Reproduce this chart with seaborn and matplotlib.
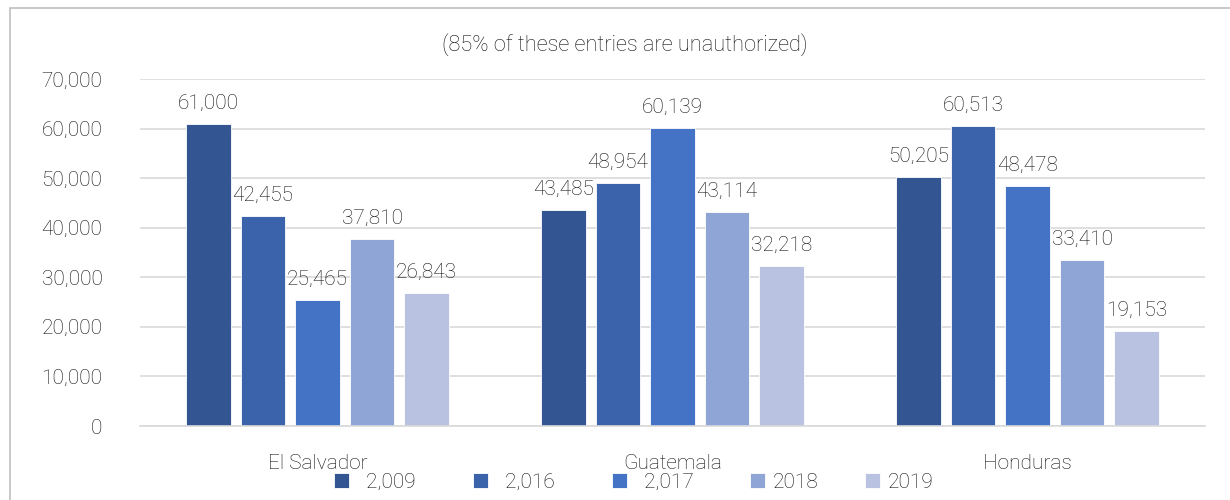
import matplotlib
matplotlib.use("Agg")
import matplotlib.pyplot as plt
from matplotlib.patches import Rectangle
import seaborn as sns
import pandas as pd

countries = ["El Salvador", "Guatemala", "Honduras"]
years = ["2,009", "2,016", "2,017", "2018", "2019"]
el_salvador = [61000, 42455, 25465, 37810, 26843]
guatemala = [43485, 48954, 60139, 43114, 32218]
honduras = [50205, 60513, 48478, 33410, 19153]
colors = ["#335592", "#3B63AC", "#4472C4", "#8FA5D6", "#B9C3E1"]

rows = []
for country, vals in zip(countries, [el_salvador, guatemala, honduras]):
    for yr, v in zip(years, vals):
        rows.append({"country": country, "year": yr, "value": v})
df = pd.DataFrame(rows)

sns.set_theme(style="white")
plt.rcParams["font.family"] = ["Roboto", "DejaVu Sans"]
plt.rcParams["font.weight"] = "light"
text_color = "#111111"
fs = 15

fig = plt.figure(figsize=(12.3, 5), dpi=100)
ax = fig.add_axes([140 / 1230, 1 - 426 / 500, 1065 / 1230, (426 - 79) / 500])

sns.barplot(data=df, x="country", y="value", hue="year", order=countries,
            hue_order=years, palette=colors, saturation=1, width=0.768, gap=0.19,
            edgecolor="white", linewidth=0.6, ax=ax, legend=True)

ax.set_ylim(0, 70000)
ax.set_xlim(-0.5, 2.5)
ax.set_yticks(range(0, 70001, 10000))
ax.set_yticklabels([f"{t:,}" for t in range(0, 70001, 10000)], fontsize=fs, color=text_color)
ax.tick_params(axis="y", length=0, pad=27)
ax.tick_params(axis="x", length=0, pad=20, labelsize=fs, labelcolor=text_color)
ax.yaxis.grid(True, color="#D9D9D9", linewidth=1.2)
ax.set_axisbelow(True)
for side in ["left", "right", "top"]:
    ax.spines[side].set_visible(False)
ax.spines["bottom"].set_color("#D9D9D9")
ax.spines["bottom"].set_linewidth(1.2)
ax.set_xlabel("")
ax.set_ylabel("")

for cont in ax.containers:
    ax.bar_label(cont, labels=[f"{v:,.0f}" for v in cont.datavalues],
                 padding=8, fontsize=fs, color=text_color)

# accounting-style number labels carry padding on both sides
handles, labels = ax.get_legend_handles_labels()
labels = [f"  {lab}  " if "," in lab else lab for lab in labels]
ax.legend(handles, labels, loc="center", bbox_to_anchor=(633.5 / 1230, 1 - 482.5 / 500),
          bbox_transform=fig.transFigure, ncol=5, frameon=False, fontsize=fs,
          handlelength=0.72, handleheight=0.72, handletextpad=0.34,
          columnspacing=2.26, labelcolor=text_color, borderpad=0, borderaxespad=0)

fig.text(625 / 1230, 1 - 45 / 500, "(85% of these entries are unauthorized)",
         ha="center", va="center", fontsize=15.7, color=text_color)

fig.patches.append(Rectangle((10 / 1230, -0.1), 1.2, 1 - 8 / 500 + 0.1,
                             transform=fig.transFigure, fill=False,
                             edgecolor="#BFBFBF", linewidth=1.2))

fig.savefig("out.png", dpi=100)
